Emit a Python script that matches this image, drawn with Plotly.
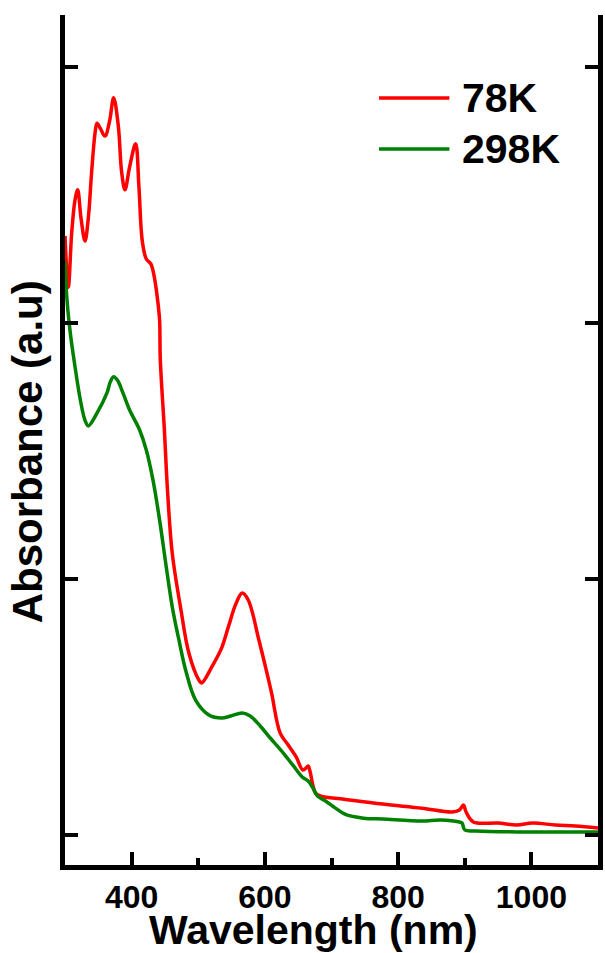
import plotly.graph_objects as go

# Absorption spectra (arbitrary units) at two temperatures
wl_78k = [300, 305, 310, 315, 319, 324, 330, 335, 340, 345, 348, 353, 360, 367, 373,
          380, 385, 390, 397, 406, 411, 416, 422, 429, 434, 439, 442, 443, 449, 454,
          461, 474, 486, 501, 505, 521, 535, 546, 556, 566, 575, 591, 601, 610, 623,
          635, 647, 657, 662, 665, 668, 672, 676, 684, 719, 777, 836, 881, 892, 898,
          902, 913, 950, 978, 1002, 1036, 1066, 1100]
abs_78k = [2.34, 2.14, 2.35, 2.48, 2.52, 2.41, 2.32, 2.41, 2.59, 2.74, 2.78, 2.76, 2.73, 2.79, 2.88,
           2.77, 2.59, 2.52, 2.61, 2.70, 2.53, 2.32, 2.25, 2.23, 2.18, 2.09, 2.01, 1.86, 1.59, 1.34,
           1.10, 0.88, 0.71, 0.605, 0.594, 0.66, 0.73, 0.82, 0.90, 0.945, 0.918, 0.762, 0.656, 0.555, 0.398,
           0.352, 0.305, 0.254, 0.262, 0.27, 0.246, 0.195, 0.164, 0.152, 0.14, 0.121, 0.105, 0.09, 0.098, 0.117,
           0.09, 0.051, 0.047, 0.039, 0.047, 0.039, 0.035, 0.027]

wl_298k = [300, 303, 308, 315, 323, 330, 335, 348, 363, 368, 373, 379, 387, 397, 412, 422,
           432, 442, 452, 461, 471, 481, 496, 516, 535, 549, 566, 578, 593, 608, 624,
           642, 656, 665, 672, 679, 691, 706, 720, 748, 777, 836, 864, 892, 896, 900,
           917, 979, 1100]
abs_298k = [2.24, 2.09, 1.96, 1.83, 1.70, 1.62, 1.598, 1.648, 1.727, 1.770, 1.790, 1.775, 1.727, 1.66, 1.582, 1.504,
            1.387, 1.23, 1.047, 0.891, 0.762, 0.645, 0.527, 0.469, 0.457, 0.465, 0.477, 0.465, 0.426, 0.379, 0.332,
            0.273, 0.227, 0.211, 0.184, 0.152, 0.133, 0.105, 0.082, 0.066, 0.0625, 0.055, 0.059, 0.051, 0.047, 0.02,
            0.016, 0.012, 0.012]

series_names = ["78K", "298K"]
series_colors = ["#ff0000", "#008000"]

x_major = [400, 600, 800, 1000]
x_minor = [500, 700, 900]
y_major = [0, 1, 2, 3]

FONT = "Liberation Sans, Arial, sans-serif"

fig = go.Figure()
for xs, ys, name, color in [(wl_78k, abs_78k, series_names[0], series_colors[0]),
                            (wl_298k, abs_298k, series_names[1], series_colors[1])]:
    fig.add_trace(go.Scatter(x=xs, y=ys, mode="lines", name=name,
                             line=dict(color=color, width=3.5, shape="spline", smoothing=1.0),
                             showlegend=False))

x_range = [300, 1100]
y_range = [-0.117, 3.203]

fig.update_layout(
    width=605, height=953,
    margin=dict(l=65, r=2, t=15, b=88),
    plot_bgcolor="white", paper_bgcolor="white",
    xaxis=dict(range=x_range, showgrid=False, zeroline=False,
               showline=True, linecolor="black", linewidth=5, mirror=False,
               ticks="inside", ticklen=13, tickwidth=4, tickcolor="black",
               tickvals=x_major, ticktext=[str(v) for v in x_major],
               tickfont=dict(family=FONT, size=32, weight="bold", color="black"),
               minor=dict(tickvals=x_minor, ticks="inside", ticklen=7, tickwidth=4,
                          tickcolor="black", showgrid=False)),
    xaxis2=dict(range=x_range, overlaying="x", side="top", anchor="y",
                showgrid=False, zeroline=False,
                showline=True, linecolor="black", linewidth=5,
                ticks="inside", ticklen=13, tickwidth=4, tickcolor="black",
                tickvals=x_major, showticklabels=False),
    yaxis=dict(range=y_range, showgrid=False, zeroline=False,
               showline=True, linecolor="black", linewidth=5, mirror="ticks",
               ticks="inside", ticklen=13, tickwidth=4, tickcolor="black",
               tickvals=y_major, showticklabels=False),
)

# Axis titles
fig.add_annotation(text="Wavelength (nm)", xref="paper", yref="paper",
                   x=(316 - 65) / 538, y=-(930 - 865) / 850, xanchor="center", yanchor="middle",
                   showarrow=False, font=dict(family=FONT, size=41, weight="bold", color="black"))
fig.add_annotation(text="Absorbance (a.u)", xref="paper", yref="paper",
                   x=-(65 - 27) / 538, y=(865 - 452) / 850, xanchor="center", yanchor="middle",
                   textangle=-90, showarrow=False,
                   font=dict(family=FONT, size=42, weight="bold", color="black"))

# Legend: line samples and labels
legend_rows_y = [98, 149]
for name, color, py in zip(series_names, series_colors, legend_rows_y):
    yp = (865 - py) / 850
    fig.add_shape(type="line", xref="paper", yref="paper",
                  x0=(382 - 65) / 538, x1=(453 - 65) / 538, y0=yp, y1=yp,
                  line=dict(color=color, width=3.5))
    fig.add_annotation(text=name, xref="paper", yref="paper",
                       x=(464 - 65) / 538, y=yp, xanchor="left", yanchor="middle",
                       showarrow=False,
                       font=dict(family=FONT, size=41, weight="bold", color="black"))

fig.write_html("out.html")
